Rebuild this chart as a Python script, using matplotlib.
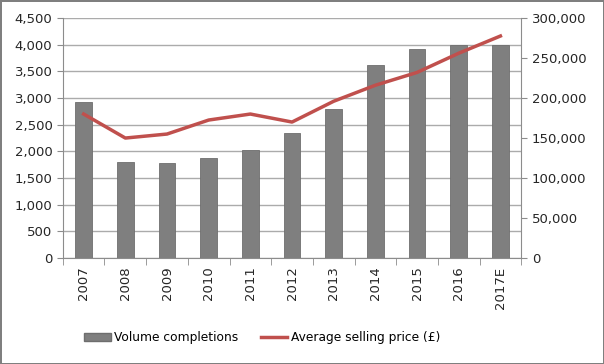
import matplotlib
matplotlib.use("Agg")
import matplotlib.pyplot as plt
import numpy as np
from matplotlib.patches import Patch
from matplotlib.lines import Line2D
from matplotlib.ticker import FuncFormatter

years = ["2007", "2008", "2009", "2010", "2011", "2012", "2013", "2014", "2015", "2016", "2017E"]
volume = [2920, 1810, 1790, 1880, 2030, 2350, 2800, 3620, 3920, 3990, 3990]
price = [180000, 150000, 155000, 172500, 180000, 170000, 196000, 216000, 232000, 256000, 277500]

plt.rcParams["font.family"] = "DejaVu Sans"
grey = "#8c8c8c"

fig = plt.figure(figsize=(6.04, 3.64), dpi=100)
fig.patch.set_edgecolor("#7f7f7f")
fig.patch.set_linewidth(2)
ax = fig.add_axes([0.104, 0.291, 0.759, 0.6595])
x = np.arange(len(years))

ax.bar(x, volume, width=0.4, color="#7f7f7f", edgecolor="#6e6e6e", linewidth=0.6, zorder=2)
ax.set_xlim(-0.5, len(years) - 0.5)
ax.set_ylim(0, 4500)
ax.set_yticks(np.arange(0, 4501, 500))
ax.yaxis.set_major_formatter(FuncFormatter(lambda v, p: f"{int(v):,}"))
ax.grid(axis="y", color="#ababab", linewidth=1, zorder=0)

ax.set_xticks(x)
ax.set_xticklabels(years, rotation=90)
ax.set_xticks(np.arange(-0.5, len(years)), minor=True)
ax.tick_params(axis="x", which="major", length=0, pad=6)
ax.tick_params(axis="x", which="minor", length=5, color=grey)
ax.tick_params(axis="y", length=4, color=grey)
ax.tick_params(labelsize=9.5, labelcolor="#262626")

for s in ["top", "right"]:
    ax.spines[s].set_visible(False)
for s in ["left", "bottom"]:
    ax.spines[s].set_color(grey)

ax2 = ax.twinx()
ax2.plot(x, price, color="#c0504d", linewidth=2.5, zorder=3)
ax2.set_ylim(0, 300000)
ax2.set_yticks(np.arange(0, 300001, 50000))
ax2.yaxis.set_major_formatter(FuncFormatter(lambda v, p: f"{int(v):,}"))
ax2.tick_params(axis="y", length=4, color=grey, labelsize=9.5, labelcolor="#262626")
for s in ["top", "left", "bottom"]:
    ax2.spines[s].set_visible(False)
ax2.spines["right"].set_color(grey)

handles = [Patch(facecolor="#7f7f7f", edgecolor="#6e6e6e"),
           Line2D([0], [0], color="#c0504d", linewidth=2.5)]
fig.legend(handles, ["Volume completions", "Average selling price (£)"],
           loc="center", bbox_to_anchor=(0.434, 0.073), ncol=2, frameon=False,
           fontsize=8.8, handlelength=2.2, handleheight=0.6, columnspacing=1.8,
           handletextpad=0.25)

fig.savefig("out.png", dpi=100)
